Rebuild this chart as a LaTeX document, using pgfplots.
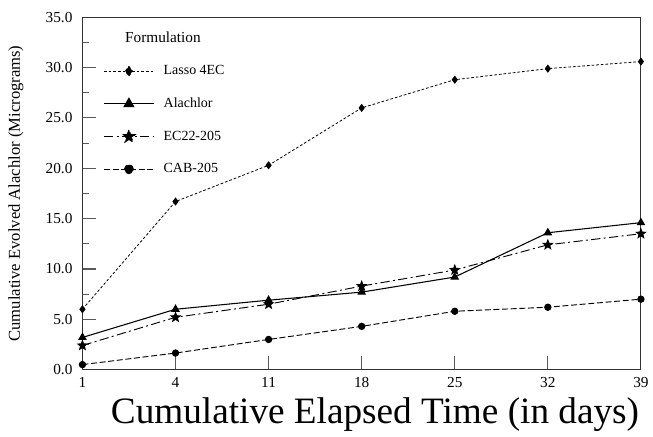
\documentclass[border=0pt]{standalone}
\usepackage{fontspec}
\setmainfont{Liberation Serif}
\usepackage{pgfplots}
\pgfplotsset{compat=1.18}

% filled five-point star for EC22-205
\pgfdeclareplotmark{fstar}{%
  \pgfpathmoveto{\pgfpointpolar{90}{1.2\pgfplotmarksize}}%
  \pgfpathlineto{\pgfpointpolar{126}{0.5\pgfplotmarksize}}%
  \pgfpathlineto{\pgfpointpolar{162}{1.2\pgfplotmarksize}}%
  \pgfpathlineto{\pgfpointpolar{198}{0.5\pgfplotmarksize}}%
  \pgfpathlineto{\pgfpointpolar{234}{1.2\pgfplotmarksize}}%
  \pgfpathlineto{\pgfpointpolar{270}{0.5\pgfplotmarksize}}%
  \pgfpathlineto{\pgfpointpolar{306}{1.2\pgfplotmarksize}}%
  \pgfpathlineto{\pgfpointpolar{342}{0.5\pgfplotmarksize}}%
  \pgfpathlineto{\pgfpointpolar{18}{1.2\pgfplotmarksize}}%
  \pgfpathlineto{\pgfpointpolar{54}{0.5\pgfplotmarksize}}%
  \pgfpathclose
  \pgfusepathqfillstroke}

\begin{document}
\begin{tikzpicture}
\begin{axis}[
    scale only axis,
    width=420pt, height=265pt,
    xmin=0, xmax=6,
    ymin=0, ymax=35,
    xtick={0,...,6},
    xticklabels={1,4,11,18,25,32,39},
    ytick={0,5,...,35},
    minor y tick num=1,
    tick pos=left,
    tick align=inside,
    major tick length=10.5pt,
    minor tick length=5pt,
    every tick/.style={black!65, line width=0.8pt},
    axis line style={black!80, line width=0.8pt},
    ticklabel style={font=\fontsize{11.5}{13}\selectfont},
    xticklabel style={yshift=-2pt},
    yticklabel style={xshift=-4pt, /pgf/number format/.cd, fixed, fixed zerofill, precision=1, assume math mode=true},
    xlabel={Cumulative Elapsed Time (in days)},
    ylabel={Cumulative Evolved Alachlor (Micrograms)},
    xlabel style={font=\fontsize{28}{30}\selectfont, at={(axis description cs:0.5,0)}, anchor=center, yshift=-34pt, xshift=10pt},
    ylabel style={font=\fontsize{12.5}{14}\selectfont, at={(axis description cs:0,0.5)}, anchor=center, yshift=50pt},
    legend style={at={(axis description cs:0.03,0.975)}, anchor=north west, draw=none, fill=none,
        font=\fontsize{10.5}{12}\selectfont, row sep=12pt, column sep=5pt, cells={anchor=west}},
    legend image code/.code={%
        \draw[mark repeat=2, mark phase=2, #1, mark options={scale=1.4}]
            plot coordinates {(0pt,0pt) (18.75pt,0pt) (37.5pt,0pt)};},
    % white room round the frame, as in the original
    extra description/.code={%
        \path (axis description cs:0,1) ++(0pt,13pt);
        \path (axis description cs:0,0.5) ++(-62pt,0pt);
        \path (axis description cs:0,0) ++(0pt,-50pt);},
]
\addlegendimage{empty legend}
\addlegendentry{\hspace*{-29pt}\fontsize{11.5}{12}\selectfont Formulation}

\addplot[black, line width=0.6pt, dash pattern=on 2pt off 1.5pt, mark=diamond*, mark size=2.6pt, mark options={solid}]
    coordinates {(0,6.0) (1,16.7) (2,20.3) (3,26.0) (4,28.8) (5,29.9) (6,30.6)};
\addlegendentry{Lasso 4EC}

\addplot[black, line width=0.8pt, mark=triangle*, mark size=3pt, mark options={solid}]
    coordinates {(0,3.2) (1,6.0) (2,6.9) (3,7.7) (4,9.2) (5,13.6) (6,14.6)};
\addlegendentry{Alachlor}

\addplot[black, line width=0.7pt, dash pattern=on 7pt off 2.5pt on 1.5pt off 2.5pt, mark=fstar, mark size=3pt, mark options={solid}]
    coordinates {(0,2.4) (1,5.2) (2,6.5) (3,8.3) (4,9.9) (5,12.4) (6,13.5)};
\addlegendentry{EC22-205}

\addplot[black, line width=0.7pt, dash pattern=on 4.5pt off 2pt, mark=*, mark size=2.4pt, mark options={solid}]
    coordinates {(0,0.5) (1,1.65) (2,3.0) (3,4.3) (4,5.8) (5,6.2) (6,7.0)};
\addlegendentry{CAB-205}
\end{axis}
\end{tikzpicture}
\end{document}
